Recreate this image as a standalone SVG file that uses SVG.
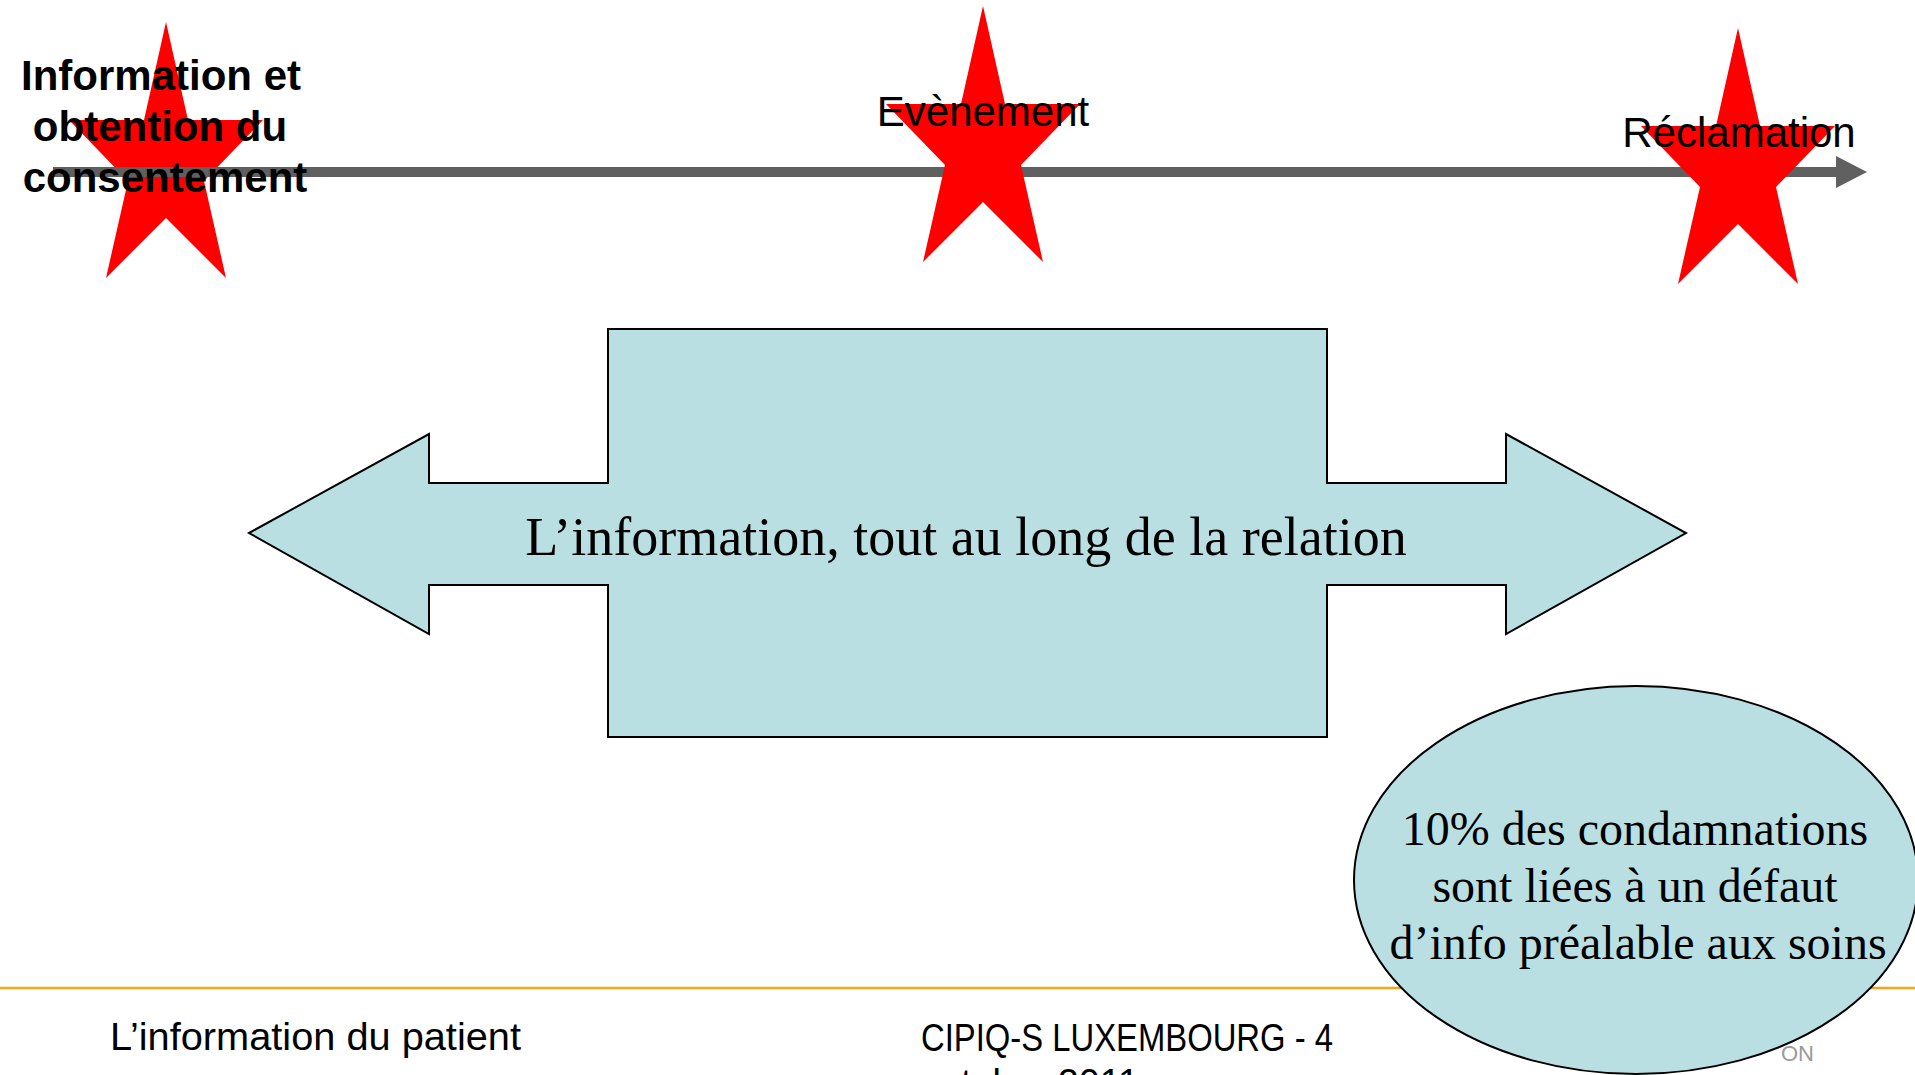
<svg xmlns="http://www.w3.org/2000/svg" width="1915" height="1075" viewBox="0 0 1915 1075">
  <style>
    .star { fill: #FF0000; }
    .label { font-family: "Liberation Sans", Arial, sans-serif; font-size: 42px; fill: #000; text-anchor: middle; }
    .bold { font-weight: bold; }
    .shape { fill: #BADFE3; stroke: #000; stroke-width: 2; }
    .serif { font-family: "Liberation Serif", "Times New Roman", serif; fill: #000; text-anchor: middle; }
    .foot { font-family: "Liberation Sans", Arial, sans-serif; font-size: 38px; fill: #000; }
  </style>
  <defs>
    <path id="star5" d="M0,0 L22,98 L97,98 L38,159 L60,256 L0,196 L-60,256 L-38,159 L-97,98 L-22,98 Z"/>
    <marker id="timeHead" markerUnits="userSpaceOnUse" markerWidth="32" markerHeight="34" refX="0" refY="16" orient="auto">
      <path d="M0,0 L31,16 L0,32 Z" fill="#606060"/>
    </marker>
  </defs>
  <rect width="1915" height="1075" fill="#FFFFFF"/>

  <!-- footer rule -->
  <line x1="0" y1="988" x2="1915" y2="988" stroke="#F8A31B" stroke-width="2.5"/>

  <g id="star-info">
    <use href="#star5" class="star" transform="translate(166,22)"/>
  </g>

  <g id="connectors">
    <line x1="53" y1="172" x2="1836" y2="172" stroke="#606060" stroke-width="10" marker-end="url(#timeHead)"/>
  </g>

  <g id="star-event">
    <use href="#star5" class="star" transform="translate(983,6)"/>
  </g>
  <g id="star-claim">
    <use href="#star5" class="star" transform="translate(1738,28)"/>
  </g>

  <g id="label-info">
    <text class="label bold" x="161" y="90">Information et</text>
    <text class="label bold" x="160" y="141">obtention du</text>
    <text class="label bold" x="165" y="192">consentement</text>
  </g>
  <g id="label-event">
    <text class="label" x="983" y="126">Evènement</text>
  </g>
  <g id="label-claim">
    <text class="label" x="1739" y="147">Réclamation</text>
  </g>

  <g id="double-arrow">
    <polygon class="shape" points="249,533 429,434 429,483 608,483 608,329 1327,329 1327,483 1506,483 1506,434 1686,533 1506,634 1506,585 1327,585 1327,737 608,737 608,585 429,585 429,634"/>
    <text class="serif" x="966" y="555" font-size="54">L’information, tout au long de la relation</text>
  </g>

  <g id="footer">
    <text class="foot" x="110" y="1050" textLength="411" lengthAdjust="spacingAndGlyphs">L’information du patient</text>
    <text class="foot" x="921" y="1051" textLength="412" lengthAdjust="spacingAndGlyphs">CIPIQ-S LUXEMBOURG - 4</text>
    <text class="foot" x="921" y="1096" textLength="218" lengthAdjust="spacingAndGlyphs">octobre 2011</text>
  </g>

  <g id="ellipse-note">
    <ellipse class="shape" cx="1636" cy="880" rx="282" ry="194"/>
    <text class="serif" x="1635" y="845" font-size="48">10% des condamnations</text>
    <text class="serif" x="1635" y="902" font-size="48">sont liées à un défaut</text>
    <text class="serif" x="1638" y="959" font-size="48">d’info préalable aux soins</text>
  </g>

  <g id="footer-faint">
    <text x="1781" y="1061" font-family="Liberation Sans, Arial, sans-serif" font-size="22" fill="#9A9A9A">ON</text>
  </g>
</svg>
